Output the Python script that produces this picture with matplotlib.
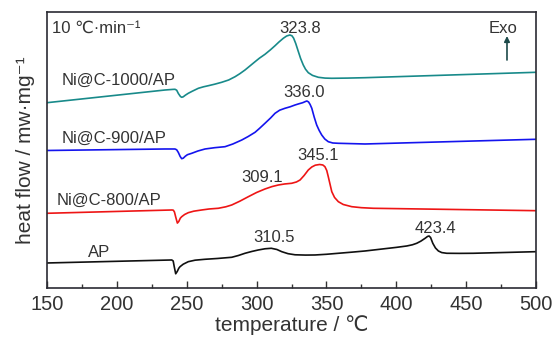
import matplotlib
matplotlib.use("Agg")
import matplotlib.pyplot as plt
from matplotlib.ticker import MultipleLocator

plt.rcParams['font.family'] = ['Liberation Sans Narrow', 'Liberation Sans', 'DejaVu Sans']
plt.rcParams['axes.unicode_minus'] = False

# DSC traces, offset vertically (arbitrary heat-flow units)
t_ap = [150, 239.3, 240.3, 241.1, 242.1, 243.2, 244.3, 245.2, 247.5, 251.1, 256,
        263.1, 272, 282.2, 287, 291.7, 296.5, 301.2, 306, 310.5, 314.5,
        318, 322.5, 327.5, 335, 341.8, 350, 358.5, 368, 377.6, 390,
        400, 407.5, 411.5, 414.6, 417.5, 420.6, 422.3, 423.4, 424.5, 426.1,
        428, 430.1, 432.5, 436.1, 445, 455.1, 500]
hf_ap = [25, 28, 27, 21, 14.2, 16.5, 19.7, 21.3, 23.8, 26.3, 27.8,
         28.7, 29.5, 30.7, 32.5, 34.7, 36.5, 38, 39.2, 39.7, 38.5,
         36.3, 34.3, 33.2, 32.9, 33, 33.7, 34.7, 35.8, 37, 39,
         40.6, 42, 43.2, 44.7, 46.8, 49.7, 51.5, 52, 50.5, 44.7,
         40, 37, 35.4, 34.7, 34.6, 34.7, 36.3]

t_800 = [150, 239.5, 240.4, 241.2, 242.2, 243.3, 244.3, 245.4, 246.4, 248.5, 251.1,
         255, 260.7, 266, 272.6, 278, 282.2, 288, 294.1, 300, 306,
         311, 315.6, 320, 325.1, 328.5, 331.1, 334, 337, 339.5, 342,
         345.1, 347.4, 348.9, 350.2, 351.3, 352.6, 353.8, 355.8, 358.5, 362,
         368.1, 375, 383.5, 500]
hf_800 = [74.7, 78, 77.8, 76, 70.5, 64.9, 66.5, 69.8, 71.3, 73.5, 75.3,
          76.8, 78, 79, 79.7, 81.2, 83, 86.8, 91.3, 95.5, 99,
          101.4, 103, 104, 104.7, 106, 108, 112.5, 118, 121, 122.8,
          123.5, 123, 121.3, 117.5, 111.3, 103.5, 96.3, 90.5, 86.3, 83.5,
          81.3, 80.3, 79.7, 77.3]

t_900 = [150, 234.5, 241.6, 242.8, 244, 245.3, 246.4, 247.5, 249, 250.5, 253.6,
         258, 263.1, 270, 277.4, 283, 289.4, 294, 298.9, 302, 306,
         310, 313.2, 316.5, 320.3, 324, 327.5, 330.5, 333, 335, 336,
         337.2, 338.3, 339.5, 341.2, 343, 344.8, 346.6, 348.8, 351.3, 354.5,
         358.5, 377.6, 500]
hf_900 = [137.5, 139, 139, 138.2, 135.5, 131.5, 129.3, 129.8, 131.8, 133.3, 134.7,
          137, 139, 140.3, 141.3, 144, 148, 151.5, 155.7, 159.5, 164.7,
          170, 174.7, 177.8, 179.7, 181.2, 183, 184.3, 185.3, 186.5, 187,
          186, 183.5, 179.7, 171, 163, 157.5, 153, 149, 146.3, 145,
          144.7, 144, 148.7]

t_1000 = [150, 234.5, 240, 241.6, 242.8, 244, 245.5, 246.4, 247.5, 249, 251.1,
          254, 258.3, 262, 265.5, 270, 275, 280, 284.6, 288, 291.7,
          295, 298.9, 302, 306, 310, 313.2, 316, 319.1, 321.5, 323.8,
          325.3, 326.5, 328, 329.9, 331.5, 333.4, 335, 337, 340, 344.2,
          349, 353.8, 365, 377.6, 500]
hf_1000 = [185.3, 198, 198.6, 198.7, 197.8, 194.5, 191.5, 190.7, 191.2, 192.8, 194.7,
           196.8, 199.7, 201.2, 202.3, 203.8, 205.7, 208, 211.3, 214.3, 218,
           221.8, 226.3, 229.8, 233.7, 238.3, 242.3, 246, 249.7, 252, 253,
           252.2, 249.8, 244.5, 236.3, 229.5, 223, 218.8, 215.3, 212.6, 210.7,
           209.9, 209.7, 209.9, 210.3, 215.7]

fig = plt.figure(figsize=(5.57, 3.38), dpi=100)
ax = fig.add_axes([0.0844, 0.148, 0.878, 0.8165])

lw = 1.2
ax.plot(t_ap, hf_ap, color='#101010', lw=lw)
ax.plot(t_800, hf_800, color='#ee1515', lw=lw)
ax.plot(t_900, hf_900, color='#1414ee', lw=lw)
ax.plot(t_1000, hf_1000, color='#188a8a', lw=lw)

ax.set_xlim(150, 500)
ax.set_ylim(0, 276)
ax.set_yticks([])
ax.xaxis.set_major_locator(MultipleLocator(50))
ax.xaxis.set_minor_locator(MultipleLocator(25))
ax.tick_params(axis='x', which='major', direction='in', length=5, width=1,
               labelsize=14.5, pad=5, colors='#333333', labelcolor='#333333')
ax.tick_params(axis='x', which='minor', direction='in', length=3, width=1, colors='#333333')
for s in ax.spines.values():
    s.set_linewidth(1.2)
    s.set_color('#2b2b33')

ax.set_xlabel('temperature / ℃', fontsize=15, color='#333333', labelpad=1)
ax.set_ylabel('heat flow / mw·mg⁻¹', fontsize=15, color='#333333', labelpad=9)

tc = '#333333'
fs = 12
ax.text(153.6, 255, '10 ℃·min⁻¹', fontsize=fs, color=tc, va='baseline')
ax.text(160.7, 203, 'Ni@C-1000/AP', fontsize=fs, color=tc, va='baseline')
ax.text(160.7, 144.7, 'Ni@C-900/AP', fontsize=fs, color=tc, va='baseline')
ax.text(157, 83, 'Ni@C-800/AP', fontsize=fs, color=tc, va='baseline')
ax.text(179.6, 31.3, 'AP', fontsize=fs, color=tc, va='baseline')

# peak temperatures
ax.text(331.1, 254.7, '323.8', fontsize=fs, color=tc, ha='center', va='baseline')
ax.text(333.7, 191.3, '336.0', fontsize=fs, color=tc, ha='center', va='baseline')
ax.text(344.2, 128, '345.1', fontsize=fs, color=tc, ha='center', va='baseline')
ax.text(303.7, 106.3, '309.1', fontsize=fs, color=tc, ha='center', va='baseline')
ax.text(312.6, 46.3, '310.5', fontsize=fs, color=tc, ha='center', va='baseline')
ax.text(428.3, 54.7, '423.4', fontsize=fs, color=tc, ha='center', va='baseline')

ax.text(476.4, 255.3, 'Exo', fontsize=fs, color=tc, ha='center', va='baseline')
ax.annotate('', xy=(479.2, 252), xytext=(479.2, 228),
            arrowprops=dict(arrowstyle='-|>', color='#1d4a4a', lw=1.2,
                            mutation_scale=8, shrinkA=0, shrinkB=0))

fig.savefig('out.png', dpi=100)
